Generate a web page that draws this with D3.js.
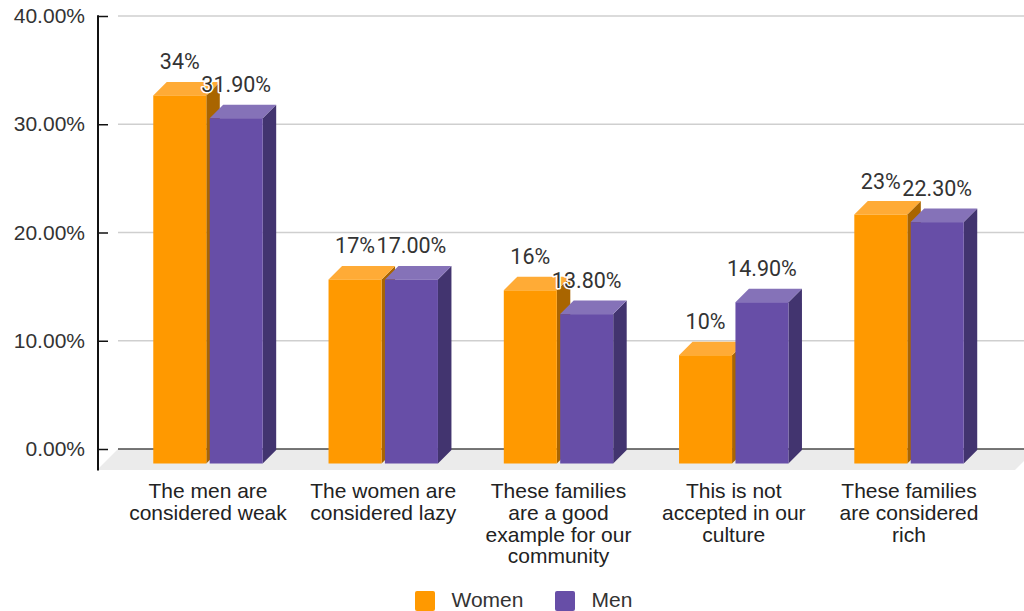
<!DOCTYPE html>
<html>
<head>
<meta charset="utf-8">
<script src="https://cdn.jsdelivr.net/npm/d3@7"></script>
<style>
  html, body { margin: 0; padding: 0; background: #fff; }
  svg { display: block; }
</style>
</head>
<body>
<svg id="chart" width="1024" height="611"></svg>
<script>
// Survey answers, share of respondents per answer
const categories = [
  "The men are considered weak",
  "The women are considered lazy",
  "These families are a good example for our community",
  "This is not accepted in our culture",
  "These families are considered rich"
];
const categoryLines = [
  ["The men are", "considered weak"],
  ["The women are", "considered lazy"],
  ["These families", "are a good", "example for our", "community"],
  ["This is not", "accepted in our", "culture"],
  ["These families", "are considered", "rich"]
];
const seriesNames = ["Women", "Men"];
const women = [0.34, 0.17, 0.16, 0.10, 0.23];
const men = [0.319, 0.170, 0.138, 0.149, 0.223];
const yTicks = [0, 0.1, 0.2, 0.3, 0.4];

const seriesValues = { Women: women, Men: men };
const seriesFormat = { Women: d3.format(".0%"), Men: d3.format(".2%") };
const seriesColors = {
  Women: { front: "#ff9900", top: "#ffab36", side: "#a96500" },
  Men:   { front: "#674ea7", top: "#8572b8", side: "#42346f" }
};

const svg = d3.select("#chart");

// back wall of the 3D plot
const wallLeft = 118, wallRight = 1036;
const floorDepth = 21;          // depth of the floor slab (px toward viewer)
const barBack = 1, barFront = 14.5; // depth of bar back / front faces

const y = d3.scaleLinear().domain([0, 0.4]).range([449, 16]);
const x0 = d3.scaleBand().domain(categories).range([118, 1028])
  .paddingInner(0.3757).paddingOuter(0.284);
const x1 = d3.scaleBand().domain(seriesNames).range([0, x0.bandwidth()])
  .paddingInner(0.06);

// floor
const fy = y(0);
svg.append("polygon")
  .attr("points", [
    [wallLeft, fy], [wallRight, fy],
    [wallRight - floorDepth, fy + floorDepth], [wallLeft - floorDepth, fy + floorDepth]
  ].map(p => p.join(",")).join(" "))
  .attr("fill", "#ebebeb");

// gridlines
svg.append("g").selectAll("line")
  .data(yTicks)
  .join("line")
  .attr("x1", wallLeft).attr("x2", wallRight)
  .attr("y1", d => y(d)).attr("y2", d => y(d))
  .attr("stroke", d => d === 0 ? "#4a4a4a" : "#cfcfcf")
  .attr("stroke-width", 1.5);

// y axis
const axisX = 98;
const yAxis = d3.axisLeft(y)
  .tickValues(yTicks)
  .tickFormat(d3.format(".2%"))
  .tickSizeInner(-10)
  .tickSizeOuter(0)
  .tickPadding(13);
const gy = svg.append("g")
  .attr("transform", `translate(${axisX},0)`)
  .call(yAxis);
gy.select(".domain").remove();
gy.selectAll(".tick line").attr("stroke", "#111").attr("stroke-width", 1.5);
gy.selectAll(".tick text")
  .attr("font-family", "'Liberation Sans', Arial, sans-serif")
  .attr("font-size", 21)
  .attr("fill", "#333");
svg.append("line")
  .attr("x1", axisX).attr("x2", axisX)
  .attr("y1", y(0.4) - 0.75).attr("y2", y(0) + floorDepth + 0.5)
  .attr("stroke", "#111").attr("stroke-width", 2);

// 3D bars
const bars = [];
categories.forEach((c, i) => {
  seriesNames.forEach(s => {
    bars.push({ cat: c, series: s, value: seriesValues[s][i] });
  });
});

const barG = svg.append("g");
bars.forEach(b => {
  const x = x0(b.cat) + x1(b.series);
  const w = x1.bandwidth();
  const yv = y(b.value), yb = y(0);
  const col = seriesColors[b.series];
  const g = barG.append("g");
  const pt = (px, py, d) => [px - d, py + d].join(",");
  // right side
  g.append("polygon")
    .attr("points", [pt(x + w, yv, barFront), pt(x + w, yv, barBack),
                     pt(x + w, yb, barBack), pt(x + w, yb, barFront)].join(" "))
    .attr("fill", col.side);
  // top
  g.append("polygon")
    .attr("points", [pt(x, yv, barFront), pt(x, yv, barBack),
                     pt(x + w, yv, barBack), pt(x + w, yv, barFront)].join(" "))
    .attr("fill", col.top);
  // front
  g.append("rect")
    .attr("x", x - barFront).attr("y", yv + barFront)
    .attr("width", w).attr("height", yb - yv)
    .attr("fill", col.front);
});

// value labels
svg.append("g").selectAll("text")
  .data(bars)
  .join("text")
  .attr("x", d => x0(d.cat) + x1(d.series) + x1.bandwidth() / 2 - barFront)
  .attr("y", d => y(d.value) + barFront - 26)
  .attr("text-anchor", "middle")
  .attr("font-family", "Roboto, sans-serif")
  .attr("font-size", 21.5)
  .attr("fill", "#333")
  .attr("stroke", "#fff")
  .attr("stroke-width", 3)
  .attr("stroke-linejoin", "round")
  .attr("paint-order", "stroke")
  .text(d => seriesFormat[d.series](d.value));

// category labels
const catG = svg.append("g")
  .attr("font-family", "'Liberation Sans', Arial, sans-serif")
  .attr("font-size", 21)
  .attr("fill", "#222")
  .attr("text-anchor", "middle");
categories.forEach((c, i) => {
  const cx = x0(c) + x0.bandwidth() / 2 - barFront;
  const t = catG.append("text").attr("x", cx).attr("y", 498);
  categoryLines[i].forEach((line, j) => {
    t.append("tspan").attr("x", cx).attr("dy", j === 0 ? 0 : 21.8).text(line);
  });
});

// legend
const legendX = { Women: 415, Men: 555 };
const lg = svg.append("g");
seriesNames.forEach(s => {
  lg.append("rect")
    .attr("x", legendX[s]).attr("y", 591)
    .attr("width", 20).attr("height", 20).attr("rx", 2)
    .attr("fill", seriesColors[s].front);
  lg.append("text")
    .attr("x", legendX[s] + 36.5).attr("y", 606.5)
    .attr("font-family", "'Liberation Sans', Arial, sans-serif")
    .attr("font-size", 21)
    .attr("fill", "#333")
    .text(s);
});
</script>
</body>
</html>
